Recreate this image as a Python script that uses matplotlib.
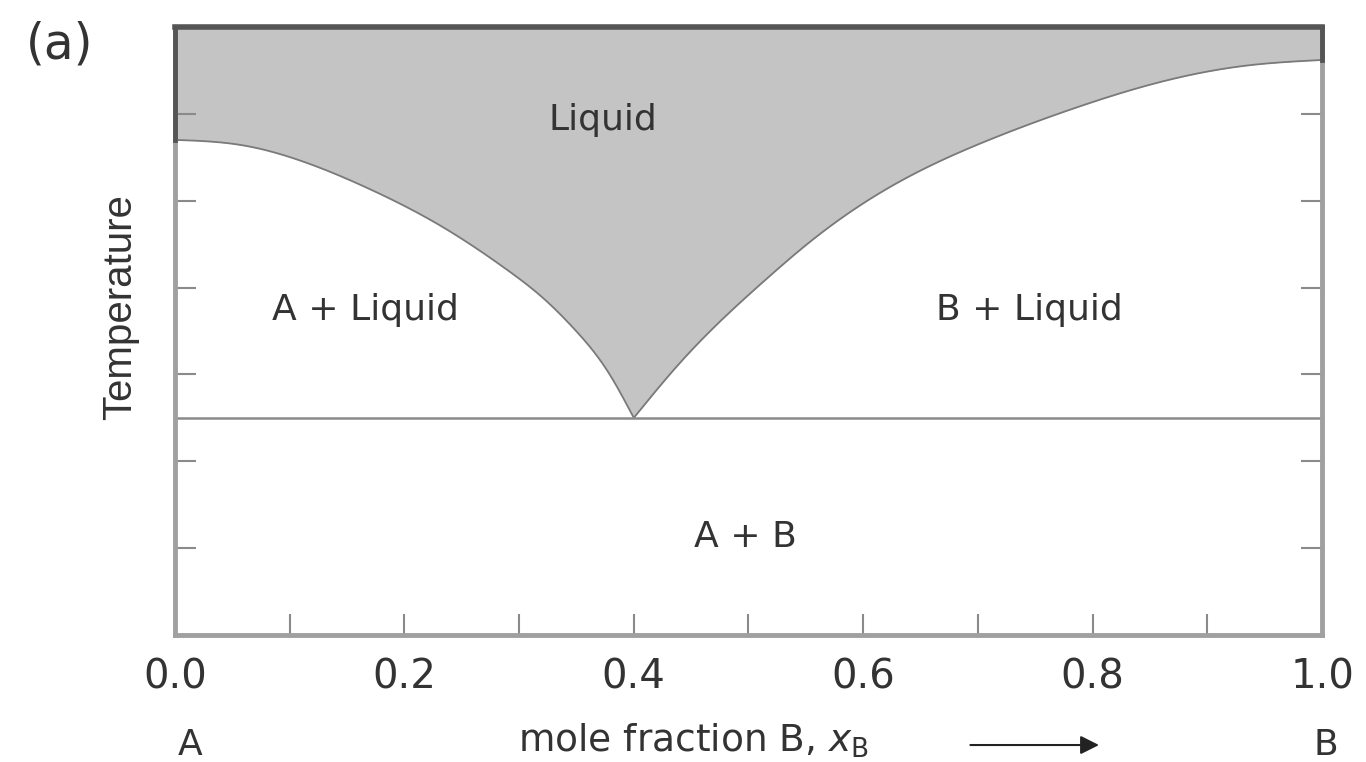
import matplotlib
matplotlib.use("Agg")
import matplotlib.pyplot as plt
import numpy as np

plt.rcParams['font.family'] = ['DejaVu Sans']
plt.rcParams['mathtext.fontset'] = 'dejavusans'

# Liquidus curves (mole fraction B, temperature in arbitrary units 0..7)
left_x = [0.0, 0.058, 0.116, 0.172, 0.233, 0.290, 0.320, 0.349, 0.378, 0.400]
left_T = [5.70, 5.64, 5.43, 5.12, 4.70, 4.20, 3.89, 3.51, 3.02, 2.50]
right_x = [0.400, 0.438, 0.476, 0.514, 0.553, 0.629, 0.706, 0.783, 0.860, 0.937, 1.0]
right_T = [2.50, 3.10, 3.62, 4.08, 4.52, 5.20, 5.68, 6.06, 6.37, 6.56, 6.62]
eutectic_T = 2.5
T_top = 7.0

x_major = [0.0, 0.2, 0.4, 0.6, 0.8, 1.0]
x_major_labels = ["0.0", "0.2", "0.4", "0.6", "0.8", "1.0"]
x_minor = [0.1, 0.3, 0.5, 0.7, 0.9]
y_ticks = [1, 2, 3, 4, 5, 6]

region_labels = ["Liquid", "A + Liquid", "B + Liquid", "A + B"]
region_x = [0.373, 0.166, 0.745, 0.497]
region_T = [5.93, 3.74, 3.74, 1.13]


def natural_spline(xs, ys, n=300):
    xs = np.asarray(xs, float); ys = np.asarray(ys, float)
    k = len(xs)
    h = np.diff(xs)
    A = np.zeros((k, k)); b = np.zeros(k)
    A[0, 0] = 1; A[-1, -1] = 1
    for i in range(1, k - 1):
        A[i, i - 1] = h[i - 1]
        A[i, i] = 2 * (h[i - 1] + h[i])
        A[i, i + 1] = h[i]
        b[i] = 3 * ((ys[i + 1] - ys[i]) / h[i] - (ys[i] - ys[i - 1]) / h[i - 1])
    c = np.linalg.solve(A, b)
    bb = (ys[1:] - ys[:-1]) / h - h * (2 * c[:-1] + c[1:]) / 3
    d = (c[1:] - c[:-1]) / (3 * h)
    t = np.linspace(xs[0], xs[-1], n)
    idx = np.clip(np.searchsorted(xs, t, side='right') - 1, 0, k - 2)
    dx = t - xs[idx]
    return t, ys[idx] + bb[idx] * dx + c[idx] * dx**2 + d[idx] * dx**3


fig = plt.figure(figsize=(13.66, 7.62), dpi=100)
ax = fig.add_axes([0.1281, 0.1667, 0.8397, 0.7979])

lx, ly = natural_spline(left_x, left_T)
rx, ry = natural_spline(right_x, right_T)
cx = np.concatenate([lx, rx[1:]])
cy = np.concatenate([ly, ry[1:]])

ax.fill_between(cx, cy, T_top, color='#c4c4c4', lw=0, zorder=1)
ax.plot(cx, cy, color='#7a7a7a', lw=1.3, zorder=2)
ax.axhline(eutectic_T, color='#8a8a8a', lw=1.8, zorder=2)

# dark outline of the liquid region along the frame
ax.plot([0, 0], [left_T[0], T_top], color='#555555', lw=3.5, zorder=4, clip_on=False)
ax.plot([1, 1], [right_T[-1], T_top], color='#555555', lw=3.5, zorder=4, clip_on=False)

ax.set_xlim(0, 1)
ax.set_ylim(0, T_top)

for side in ['left', 'right', 'bottom']:
    ax.spines[side].set_color('#a0a0a0')
    ax.spines[side].set_linewidth(3.5)
ax.spines['top'].set_color('#555555')
ax.spines['top'].set_linewidth(4)

ax.set_xticks(x_major)
ax.set_xticklabels(x_major_labels)
ax.set_xticks(x_minor, minor=True)
ax.set_yticks(y_ticks)
ax.set_yticklabels([])
ax.tick_params(axis='x', which='both', direction='in', length=15, width=1.5,
               color='#8a8a8a', labelsize=29, pad=16, top=False)
ax.tick_params(axis='y', direction='in', length=15, width=1.5, color='#8a8a8a',
               left=True, right=True, labelleft=False)
for lab in ax.get_xticklabels():
    lab.set_color('#333333')

for txt, x, y in zip(region_labels, region_x, region_T):
    ax.text(x, y, txt, ha='center', va='center', fontsize=26, color='#333333', zorder=5)

ax.set_ylabel('Temperature', fontsize=29, color='#333333',
              family=['Liberation Sans', 'DejaVu Sans'])
ax.yaxis.set_label_coords(-0.031, 0.54)

trans = ax.get_xaxis_transform()
ax.text(0.013, -0.181, 'A', transform=trans, ha='center', va='center', fontsize=26, color='#333333')
ax.text(1.003, -0.181, 'B', transform=trans, ha='center', va='center', fontsize=26, color='#333333')
ax.text(0.299, -0.174, r'mole fraction B, $x_{\rm B}$', transform=trans, ha='left',
        va='center', fontsize=27, color='#333333')
ax.annotate('', xy=(0.808, -0.181), xytext=(0.691, -0.181), xycoords=trans, textcoords=trans,
            arrowprops=dict(arrowstyle='-|>', color='#222222', lw=1.5, mutation_scale=28))

fig.text(0.044, 0.941, '(a)', fontsize=35, color='#333333', ha='center', va='center')

fig.savefig('out.png', dpi=100, facecolor='white')
